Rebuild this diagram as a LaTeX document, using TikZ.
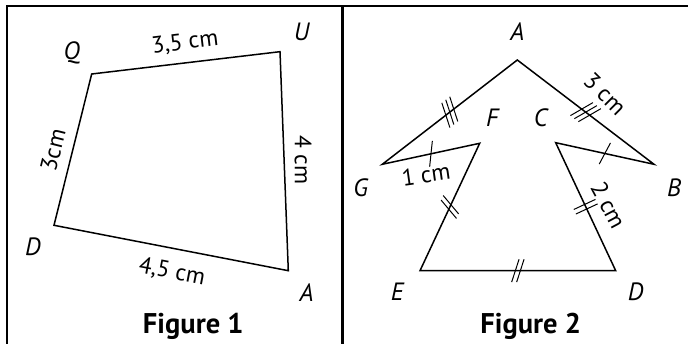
\documentclass[tikz,border=0pt]{standalone}
\usepackage{fontspec}
\setmainfont{PT Sans}
\usetikzlibrary{calc}
\begin{document}
\begin{tikzpicture}[x=1pt,y=1pt,
  frame/.style={line width=2.5pt},
  poly/.style={line width=1.5pt,line join=miter},
  tickmark/.style={line width=1pt},
  ptlabel/.style={font=\fontsize{25}{30}\selectfont\itshape,inner sep=0pt},
  dimlabel/.style={font=\fontsize{23.5}{28}\selectfont,inner sep=0pt},
  caption/.style={font=\fontsize{28.5}{34}\selectfont\bfseries,inner sep=0pt,anchor=base}]
\useasboundingbox (0,0) rectangle (688,344);
% frame
\draw[frame] (7,0) -- (7,337.8) -- (688,337.8);
\draw[frame] (342.3,337.8) -- (342.3,0);
% Figure 1
\coordinate (Q) at (91.7,270);
\coordinate (U) at (280,292.3);
\coordinate (A1) at (288.3,73.3);
\coordinate (D1) at (54,118.7);
\draw[poly] (Q) -- (U) -- (A1) -- (D1) -- cycle;
\node[ptlabel] (lQ) at (71.7,291) {Q};
\node[ptlabel] (lU) at (301.7,312.3) {U};
\node[ptlabel] (lD1) at (33,97) {D};
\node[ptlabel] (lA1) at (306.7,51) {A};
\node[dimlabel,rotate=6.75] (dQU) at (185,301) {3,5 cm};
\node[dimlabel,rotate=76] (dDQ) at (53,194) {3cm};
\node[dimlabel,rotate=-90] (dUA) at (303,184) {4 cm};
\node[dimlabel,rotate=-11] (dDA) at (172,72) {4,5 cm};
\node[caption] (cap1) at (193.3,10.3) {Figure 1};
% Figure 2
\coordinate (A) at (517.3,284);
\coordinate (B) at (654,179.7);
\coordinate (C) at (555.7,201.3);
\coordinate (D) at (615.7,73.3);
\coordinate (E) at (420,73.3);
\coordinate (F) at (479.7,200.7);
\coordinate (G) at (382.3,179.7);
\draw[poly] (A) -- (B) -- (C) -- (D) -- (E) -- (F) -- (G) -- cycle;
\node[ptlabel] (lA) at (517.3,312.3) {A};
\node[ptlabel] (lB) at (674,156) {B};
\node[ptlabel] (lC) at (540.7,226) {C};
\node[ptlabel] (lD) at (635.7,52.3) {D};
\node[ptlabel] (lE) at (397.3,52.3) {E};
\node[ptlabel] (lF) at (492.3,226) {F};
\node[ptlabel] (lG) at (360.7,156) {G};
\node[dimlabel,rotate=-45] (dAB) at (605,250) {3 cm};
\node[dimlabel,rotate=-62] (dCD) at (608.5,139) {2 cm};
\node[dimlabel,rotate=8] (dGF) at (426,169.5) {1 cm};
\node[caption] (cap2) at (530.7,10.3) {Figure 2};
% tick marks
\coordinate (mAG) at ($(G)!0.5!(A)$);
\foreach \s in {-5,0,5} {
  \draw[tickmark] ($(mAG)!\s pt!(A)+(108:13)$) -- ($(mAG)!\s pt!(A)+(288:13)$);
}
\coordinate (mAB) at ($(A)!0.5!(B)$);
\foreach \s in {-5,0,5} {
  \draw[tickmark] ($(mAB)!\s pt!(B)+(30:13)$) -- ($(mAB)!\s pt!(B)+(210:13)$);
}
\coordinate (mGF) at ($(G)!0.5!(F)$);
\draw[tickmark] ($(mGF)+(84:13)$) -- ($(mGF)+(264:13)$);
\coordinate (mCB) at ($(C)!0.5!(B)$);
\draw[tickmark] ($(mCB)+(62:12)$) -- ($(mCB)+(242:12)$);
\coordinate (mFE) at ($(F)!0.5!(E)$);
\foreach \s in {-2.5,2.5} {
  \draw[tickmark] ($(mFE)!\s pt!(E)+(130:12)$) -- ($(mFE)!\s pt!(E)+(310:12)$);
}
\coordinate (mCD) at ($(C)!0.5!(D)$);
\foreach \s in {-2.5,2.5} {
  \draw[tickmark] ($(mCD)!\s pt!(D)+(25:12)$) -- ($(mCD)!\s pt!(D)+(205:12)$);
}
\coordinate (mED) at ($(E)!0.5!(D)$);
\foreach \s in {-2.5,2.5} {
  \draw[tickmark] ($(mED)!\s pt!(D)+(72:12)$) -- ($(mED)!\s pt!(D)+(252:12)$);
}
\end{tikzpicture}
\end{document}
